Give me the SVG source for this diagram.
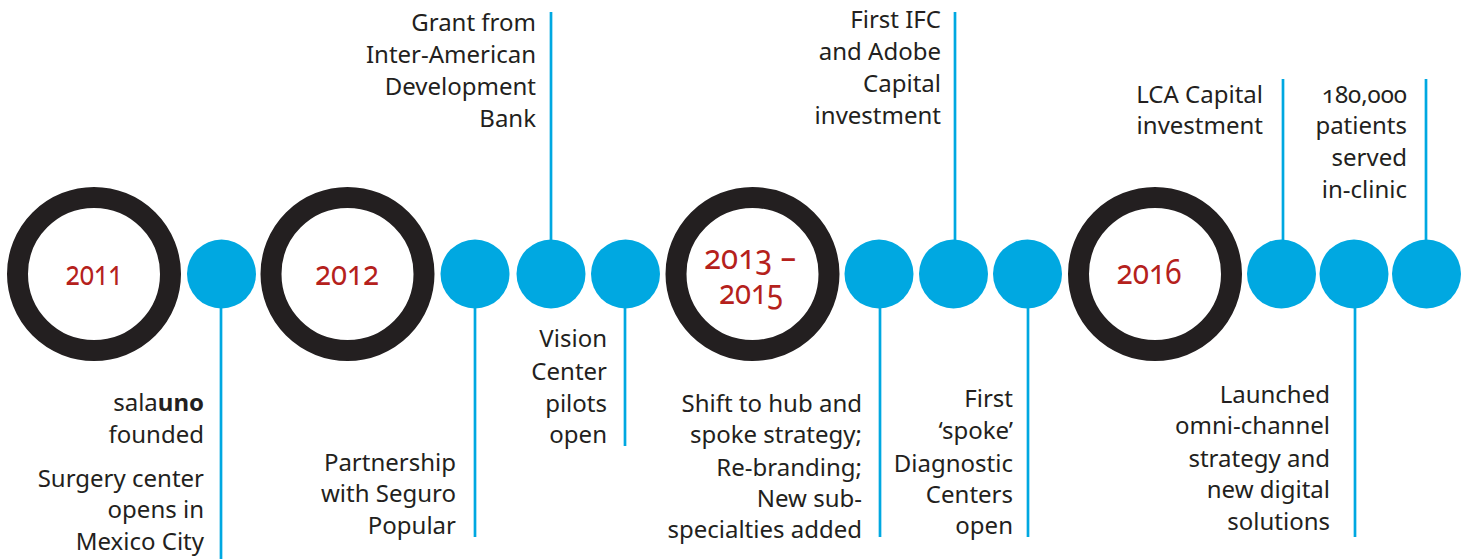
<svg xmlns="http://www.w3.org/2000/svg" width="1468" height="559" viewBox="0 0 1468 559">
  <style>
    .ring { fill: #ffffff; stroke: #231f20; stroke-width: 21; }
    .dot { fill: #00a8e1; }
    .stem { stroke: #00a8e1; stroke-width: 2.7; fill: none; }
    .year { font-family: "Noto Sans", "Open Sans", sans-serif; font-size: 35px; fill: #b5211c; text-anchor: middle; font-variant-numeric: oldstyle-nums; }
    .label { font-family: "Noto Sans", "Open Sans", sans-serif; font-size: 24px; fill: #231f20; text-anchor: end; font-variant-numeric: oldstyle-nums; }
    .bold { font-weight: bold; }
  </style>
  <rect width="1468" height="559" fill="#ffffff"/>

  <!-- stems joining each dot to its caption -->
  <g id="connectors">
    <line class="stem" x1="221" y1="300" x2="221" y2="559"/>
    <line class="stem" x1="475" y1="300" x2="475" y2="537"/>
    <line class="stem" x1="551" y1="12" x2="551" y2="250"/>
    <line class="stem" x1="625" y1="300" x2="625" y2="446"/>
    <line class="stem" x1="880" y1="300" x2="880" y2="537"/>
    <line class="stem" x1="955" y1="12" x2="955" y2="250"/>
    <line class="stem" x1="1028" y1="300" x2="1028" y2="537"/>
    <line class="stem" x1="1283" y1="79" x2="1283" y2="250"/>
    <line class="stem" x1="1355" y1="300" x2="1355" y2="537"/>
    <line class="stem" x1="1426" y1="79" x2="1426" y2="250"/>
  </g>

  <!-- year rings -->
  <g id="year-2011">
    <circle class="ring" cx="94" cy="274" r="76.5"/>
    <text class="year" x="94" y="285" textLength="57" lengthAdjust="spacingAndGlyphs">2011</text>
  </g>
  <g id="year-2012">
    <circle class="ring" cx="347.5" cy="274" r="76.5"/>
    <text class="year" x="347" y="285" textLength="64" lengthAdjust="spacingAndGlyphs">2012</text>
  </g>
  <g id="year-2013-2015">
    <circle class="ring" cx="752.5" cy="274" r="76.5"/>
    <text class="year"><tspan x="750" y="269" textLength="92" lengthAdjust="spacingAndGlyphs">2013 –</tspan><tspan x="751" y="304" textLength="64" lengthAdjust="spacingAndGlyphs">2015</tspan></text>
  </g>
  <g id="year-2016">
    <circle class="ring" cx="1155" cy="274" r="76.5"/>
    <text class="year" x="1149" y="284" textLength="65" lengthAdjust="spacingAndGlyphs">2016</text>
  </g>

  <!-- events -->
  <g id="event-founded">
    <circle class="dot" cx="221.5" cy="274" r="34.5"/>
    <text class="label" x="204" y="411">sala<tspan class="bold">uno</tspan></text>
    <text class="label" x="204" y="443">founded</text>
    <text class="label" x="204" y="487">Surgery center</text>
    <text class="label" x="204" y="518">opens in</text>
    <text class="label" x="204" y="550">Mexico City</text>
  </g>
  <g id="event-seguro">
    <circle class="dot" cx="475" cy="274" r="34.5"/>
    <text class="label" x="456" y="471">Partnership</text>
    <text class="label" x="456" y="502">with Seguro</text>
    <text class="label" x="456" y="534">Popular</text>
  </g>
  <g id="event-grant">
    <circle class="dot" cx="551" cy="274" r="34.5"/>
    <text class="label" x="536" y="31">Grant from</text>
    <text class="label" x="536" y="63">Inter-American</text>
    <text class="label" x="536" y="95">Development</text>
    <text class="label" x="536" y="127">Bank</text>
  </g>
  <g id="event-vision">
    <circle class="dot" cx="625.5" cy="274" r="34.5"/>
    <text class="label" x="607" y="347">Vision</text>
    <text class="label" x="607" y="380">Center</text>
    <text class="label" x="607" y="412">pilots</text>
    <text class="label" x="607" y="443">open</text>
  </g>
  <g id="event-hub">
    <circle class="dot" cx="879" cy="274" r="34.5"/>
    <text class="label" x="862" y="412">Shift to hub and</text>
    <text class="label" x="862" y="443">spoke strategy;</text>
    <text class="label" x="862" y="476">Re-branding;</text>
    <text class="label" x="862" y="507">New sub-</text>
    <text class="label" x="862" y="538">specialties added</text>
  </g>
  <g id="event-ifc">
    <circle class="dot" cx="953.5" cy="274" r="34.5"/>
    <text class="label" x="941" y="28">First IFC</text>
    <text class="label" x="941" y="60">and Adobe</text>
    <text class="label" x="941" y="92">Capital</text>
    <text class="label" x="941" y="124">investment</text>
  </g>
  <g id="event-spoke">
    <circle class="dot" cx="1027.5" cy="274" r="34.5"/>
    <text class="label" x="1013" y="407">First</text>
    <text class="label" x="1013" y="439">‘spoke’</text>
    <text class="label" x="1013" y="472">Diagnostic</text>
    <text class="label" x="1013" y="503">Centers</text>
    <text class="label" x="1013" y="534">open</text>
  </g>
  <g id="event-lca">
    <circle class="dot" cx="1281.5" cy="274" r="34.5"/>
    <text class="label" x="1263" y="103">LCA Capital</text>
    <text class="label" x="1263" y="134">investment</text>
  </g>
  <g id="event-omni">
    <circle class="dot" cx="1354" cy="274" r="34.5"/>
    <text class="label" x="1330" y="403">Launched</text>
    <text class="label" x="1330" y="434">omni-channel</text>
    <text class="label" x="1330" y="467">strategy and</text>
    <text class="label" x="1330" y="498">new digital</text>
    <text class="label" x="1330" y="530">solutions</text>
  </g>
  <g id="event-patients">
    <circle class="dot" cx="1426.5" cy="274" r="34.5"/>
    <text class="label" x="1407" y="103">180,000</text>
    <text class="label" x="1407" y="134">patients</text>
    <text class="label" x="1407" y="166">served</text>
    <text class="label" x="1407" y="198">in-clinic</text>
  </g>
</svg>
